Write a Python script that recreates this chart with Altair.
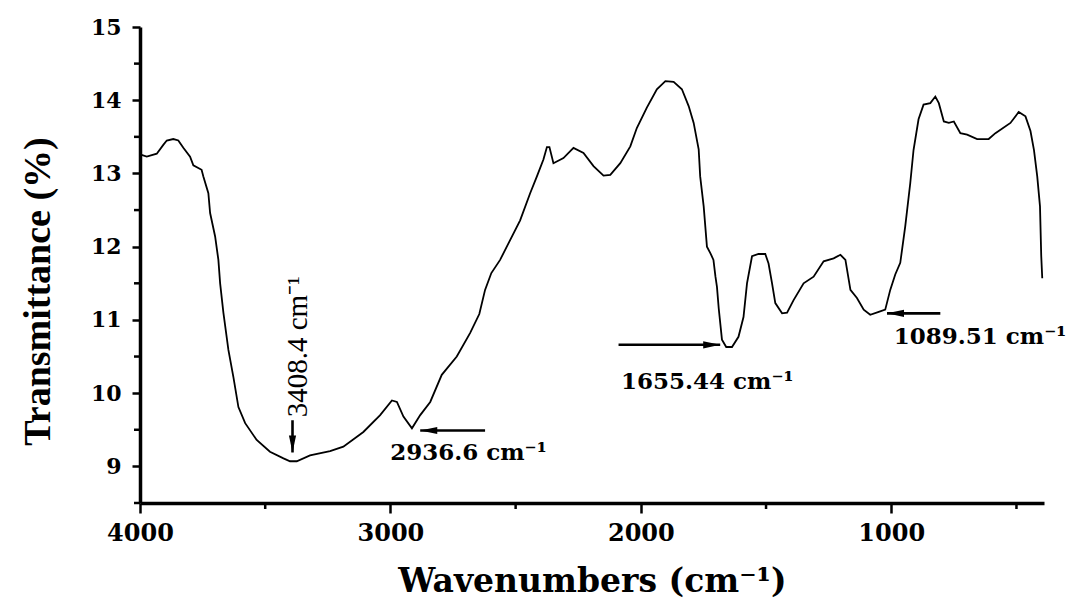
import altair as alt
import pandas as pd

# ---- spectrum ----
wavenumber = [4000, 3973, 3933, 3907, 3893, 3867, 3847, 3827, 3800, 3787, 3754, 3747, 3727, 3720,
              3700, 3687, 3680, 3667, 3647, 3627, 3607, 3580, 3534, 3481, 3427, 3401, 3374, 3321,
              3241, 3188, 3108, 3041, 2994, 2974, 2948, 2914, 2881, 2841, 2795, 2735, 2682, 2645,
              2622, 2597, 2562, 2522, 2482, 2442, 2415, 2389, 2375, 2365, 2349, 2309, 2269, 2229,
              2189, 2149, 2122, 2082, 2042, 2016, 1976, 1936, 1902, 1869, 1836, 1809, 1789, 1769,
              1763, 1749, 1736, 1722, 1710, 1702, 1696, 1689, 1676, 1659, 1636, 1610, 1590, 1576,
              1556, 1530, 1503, 1490, 1476, 1463, 1436, 1416, 1390, 1350, 1310, 1270, 1230, 1203,
              1183, 1163, 1137, 1110, 1084, 1050, 1024, 1004, 984, 964, 944, 924, 911, 891, 871,
              844, 824, 810, 790, 770, 750, 724, 697, 657, 611, 584, 524, 491, 464, 444, 430, 417,
              406, 401, 397]
transmittance = [13.26, 13.23, 13.27, 13.39, 13.45, 13.47, 13.45, 13.35, 13.23, 13.11, 13.05, 12.96,
                 12.73, 12.46, 12.14, 11.82, 11.50, 11.10, 10.59, 10.22, 9.81, 9.59, 9.36, 9.20,
                 9.11, 9.07, 9.07, 9.15, 9.21, 9.27, 9.47, 9.70, 9.90, 9.88, 9.68, 9.52, 9.70,
                 9.88, 10.25, 10.50, 10.82, 11.08, 11.41, 11.64, 11.82, 12.09, 12.36, 12.73, 12.96,
                 13.19, 13.36, 13.36, 13.14, 13.21, 13.35, 13.28, 13.10, 12.97, 12.98, 13.14, 13.37,
                 13.62, 13.90, 14.15, 14.26, 14.25, 14.15, 13.92, 13.69, 13.33, 12.96, 12.55, 12.00,
                 11.91, 11.82, 11.59, 11.45, 11.16, 10.73, 10.63, 10.63, 10.77, 11.04, 11.50, 11.87,
                 11.90, 11.90, 11.77, 11.50, 11.23, 11.09, 11.10, 11.27, 11.50, 11.59, 11.80, 11.84,
                 11.89, 11.82, 11.41, 11.30, 11.14, 11.07, 11.11, 11.14, 11.41, 11.62, 11.78, 12.28,
                 12.87, 13.32, 13.74, 13.94, 13.96, 14.05, 13.96, 13.71, 13.69, 13.71, 13.55, 13.53,
                 13.47, 13.47, 13.55, 13.69, 13.84, 13.78, 13.58, 13.32, 12.96, 12.55, 11.87, 11.57]

# ---- axes ----
x_domain = [390, 4000]
y_domain = [8.5, 15]
x_major = [4000, 3000, 2000, 1000]
x_minor = [3500, 2500, 1500, 500]
y_major = [9, 10, 11, 12, 13, 14, 15]
y_minor = [8.5, 9.5, 10.5, 11.5, 12.5, 13.5, 14.5]

# ---- annotations ----
arrow_x1 = [3391, 2622, 2089, 804]
arrow_y1 = [9.63, 9.49, 10.66, 11.09]
arrow_x2 = [3391, 2881, 1683, 1017]
arrow_y2 = [9.19, 9.49, 10.66, 11.09]
arrow_angle = [90, 180, 0, 180]

label_text = ["2936.6 cm\u207b\u00b9", "1655.44 cm\u207b\u00b9", "1089.51 cm\u207b\u00b9"]
label_x = [3001, 2079, 990]
label_y = [9.18, 10.15, 10.77]

vlabel_text = ["3408.4 cm\u207b\u00b9"]
vlabel_x = [3371]
vlabel_y = [9.67]

spec = pd.DataFrame({"wn": wavenumber, "t": transmittance})
arrows = pd.DataFrame({"x1": arrow_x1, "y1": arrow_y1, "x2": arrow_x2, "y2": arrow_y2,
                       "ang": arrow_angle})
labels = pd.DataFrame({"x": label_x, "y": label_y, "txt": label_text})
vlabels = pd.DataFrame({"x": vlabel_x, "y": vlabel_y, "txt": vlabel_text})
xminor = pd.DataFrame({"v": x_minor})
yminor = pd.DataFrame({"v": y_minor})

xscale = alt.Scale(domain=x_domain, reverse=True, nice=False, zero=False)
yscale = alt.Scale(domain=y_domain, nice=False, zero=False)

xaxis = alt.Axis(
    values=x_major, format="d", tickSize=10, labelPadding=8,
    labelFont="DejaVu Serif", labelFontWeight="bold", labelFontSize=24,
    labelFlush=False, labelOverlap=False,
    title="Wavenumbers (cm\u207b\u00b9)",
    titleFont="DejaVu Serif", titleFontWeight="bold", titleFontSize=33,
    titleX=452, titleY=88, titleAlign="center", titleBaseline="alphabetic",
    titleAnchor="start",
)
yaxis = alt.Axis(
    values=y_major, format="d", tickSize=8, labelPadding=11,
    labelFont="DejaVu Serif", labelFontWeight="bold", labelFontSize=22,
    labelFlush=False, labelOverlap=False,
    title="Transmittance (%)",
    titleFont="Liberation Serif", titleFontWeight="bold", titleFontSize=38,
    titleAngle=270, titleX=-102, titleY=264, titleAlign="center", titleBaseline="middle",
    titleAnchor="start",
)

line = alt.Chart(spec).mark_line(color="black", strokeWidth=1.8).encode(
    x=alt.X("wn:Q", scale=xscale, axis=xaxis),
    y=alt.Y("t:Q", scale=yscale, axis=yaxis),
)

xminor_ticks = alt.Chart(xminor).mark_tick(
    orient="vertical", size=6, thickness=2.5, color="black", opacity=1, yOffset=3,
).encode(x="v:Q", y=alt.datum(8.5))

yminor_ticks = alt.Chart(yminor).mark_tick(
    orient="horizontal", size=6, thickness=2.5, color="black", opacity=1, xOffset=-3,
).encode(y="v:Q", x=alt.datum(4000))

shafts = alt.Chart(arrows).mark_rule(color="black", strokeWidth=2.6).encode(
    x="x1:Q", y="y1:Q", x2="x2:Q", y2="y2:Q"
)
heads = alt.Chart(arrows).mark_point(
    shape="M0,0 L-2,-0.42 L-2,0.42 Z", filled=True, color="black", opacity=1, size=290,
    strokeWidth=0,
).encode(x="x2:Q", y="y2:Q", angle=alt.Angle("ang:Q", scale=None))

texts = alt.Chart(labels).mark_text(
    font="DejaVu Serif", fontWeight="bold", fontSize=23, align="left", baseline="middle",
    color="black",
).encode(x="x:Q", y="y:Q", text="txt:N")

vtexts = alt.Chart(vlabels).mark_text(
    font="Liberation Serif", fontSize=29, align="left", baseline="middle", angle=270,
    color="black",
).encode(x="x:Q", y="y:Q", text="txt:N")

chart = alt.layer(line, xminor_ticks, yminor_ticks, shafts, heads, texts, vtexts).properties(
    width=904, height=476,
    autosize=alt.AutoSizeParams(type="none"),
    padding={"left": 132, "top": 19, "right": 28, "bottom": 97},
    background="white",
).configure_view(stroke=None).configure_axis(
    domainColor="black", domainWidth=3.5, tickColor="black", tickWidth=2.5,
    labelColor="black", titleColor="black", grid=False,
)

chart.save("out.html", embed_options={"renderer": "svg", "actions": False})
